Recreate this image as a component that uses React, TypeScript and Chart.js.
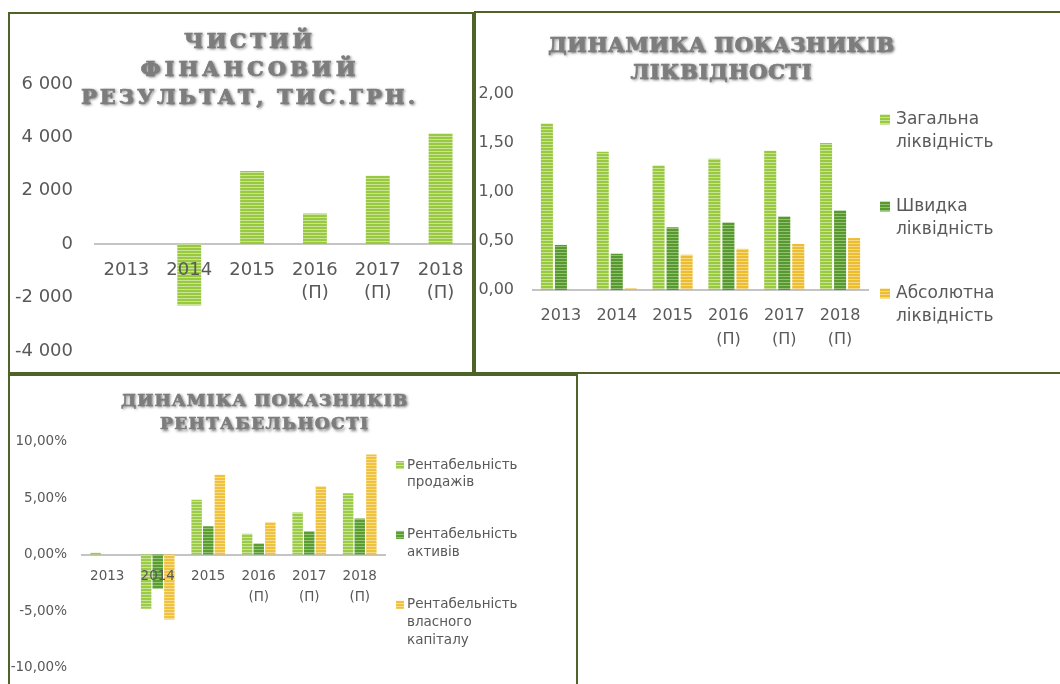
import React, { useEffect, useRef } from 'react';
import { Chart, registerables } from 'chart.js';

Chart.register(...registerables);

// ---------- data ----------
const years: (string | string[])[] = ['2013', '2014', '2015', ['2016', '(П)'], ['2017', '(П)'], ['2018', '(П)']];

const netResultTitle = ['ЧИСТИЙ', 'ФІНАНСОВИЙ', 'РЕЗУЛЬТАТ, ТИС.ГРН.'];
const netResultLabel = 'Чистий фінансовий результат';
const netResult = [0, -2300, 2740, 1150, 2560, 4150];

const liquidityTitle = ['ДИНАМИКА ПОКАЗНИКІВ', 'ЛІКВІДНОСТІ'];
const liquiditySeries = ['Загальна ліквідність', 'Швидка ліквідність', 'Абсолютна ліквідність'];
const generalLiquidity = [1.7, 1.41, 1.27, 1.34, 1.42, 1.5];
const quickLiquidity = [0.46, 0.37, 0.64, 0.69, 0.75, 0.81];
const absoluteLiquidity = [0, 0.02, 0.36, 0.42, 0.47, 0.53];

const profitabilityTitle = ['ДИНАМІКА ПОКАЗНИКІВ', 'РЕНТАБЕЛЬНОСТІ'];
const profitabilitySeries = ['Рентабельність продажів', 'Рентабельність активів', 'Рентабельність власного капіталу'];
const salesProfitability = [0.15, -4.8, 4.85, 1.83, 3.72, 5.43];
const assetsProfitability = [0, -3.04, 2.51, 0.97, 2.06, 3.19];
const equityProfitability = [0, -5.75, 7.05, 2.86, 6.05, 8.85];

// ---------- styles ----------
const FONT = '"DejaVu Sans", sans-serif';
const TITLE_FONT = '"DejaVu Serif", serif';
const TEXT = '#595959';
const BORDER = '#4f6228';

function stripes(base: string, light: string): CanvasPattern {
  const c = document.createElement('canvas');
  c.width = 4;
  c.height = 3;
  const g = c.getContext('2d')!;
  g.fillStyle = base;
  g.fillRect(0, 0, 4, 3);
  g.fillStyle = light;
  g.fillRect(0, 2, 4, 1);
  return g.createPattern(c, 'repeat')!;
}

const fmtThousands = (v: number) => {
  const s = Math.abs(v).toString().replace(/\B(?=(\d{3})+(?!\d))/g, ' ');
  return (v < 0 ? '-' : '') + s;
};
const fmtDecimal = (v: number) => v.toFixed(2).replace('.', ',');
const fmtPercent = (v: number) => v.toFixed(2).replace('.', ',') + '%';

function titlePlugin(cfg: { lines: string[]; cx: number; centers: number[]; widths: number[]; size: number }) {
  return {
    id: 'overlayTitle',
    afterDraw(chart: any) {
      const ctx: CanvasRenderingContext2D = chart.ctx;
      ctx.save();
      ctx.font = `bold ${cfg.size}px ${TITLE_FONT}`;
      ctx.textAlign = 'left';
      ctx.textBaseline = 'alphabetic';
      cfg.lines.forEach((text, i) => {
        (ctx as any).letterSpacing = '0px';
        const natural = ctx.measureText(text).width;
        const n = Array.from(text).length;
        const gap = n > 1 ? (cfg.widths[i] - natural) / (n - 1) : 0;
        (ctx as any).letterSpacing = `${gap}px`;
        const y = cfg.centers[i] + 0.364 * cfg.size - 0.7;
        const x = cfg.cx - cfg.widths[i] / 2;
        ctx.shadowColor = 'rgba(0,0,0,0.6)';
        ctx.shadowBlur = 3;
        ctx.shadowOffsetX = 1.5;
        ctx.shadowOffsetY = 1.5;
        ctx.fillStyle = '#7d7d7d';
        ctx.strokeStyle = '#7d7d7d';
        ctx.lineWidth = 0.7;
        ctx.fillText(text, x, y);
        ctx.shadowColor = 'rgba(0,0,0,0)';
        ctx.strokeText(text, x, y);
      });
      ctx.restore();
    },
  };
}

function legendPlugin(cfg: { markerX: number; marker: number; textX: number; top: number; step: number; lineHeight: number; size: number }) {
  return {
    id: 'sideLegend',
    afterDraw(chart: any) {
      const ctx: CanvasRenderingContext2D = chart.ctx;
      ctx.save();
      ctx.font = `${cfg.size}px ${FONT}`;
      ctx.textAlign = 'left';
      ctx.textBaseline = 'middle';
      chart.data.datasets.forEach((ds: any, i: number) => {
        const y0 = cfg.top + i * cfg.step;
        ctx.fillStyle = ds.backgroundColor;
        ctx.fillRect(cfg.markerX, y0 - cfg.marker / 2, cfg.marker, cfg.marker);
        ctx.fillStyle = TEXT;
        String(ds.label)
          .split(' ')
          .forEach((line: string, k: number) => ctx.fillText(line, cfg.textX, y0 + k * cfg.lineHeight));
      });
      ctx.restore();
    },
  };
}

function xScale(size: number, lineHeight: number, pad: number) {
  return {
    type: 'category',
    position: { y: 0 },
    offset: true,
    grid: { display: false, drawTicks: false },
    border: { display: true, color: '#c4c4c4', width: 2 },
    ticks: {
      z: 1,
      color: TEXT,
      padding: pad,
      maxRotation: 0,
      autoSkip: false,
      font: { family: FONT, size, lineHeight },
    },
    afterFit: (s: any) => {
      s.paddingLeft = 0;
      s.paddingRight = 0;
      s.paddingTop = 0;
      s.paddingBottom = 0;
    },
  };
}

function yScale(min: number, max: number, step: number, fmt: (v: number) => string, width: number, pad: number, size: number) {
  return {
    min,
    max,
    grid: { display: false, drawTicks: false },
    border: { display: false },
    ticks: {
      stepSize: step,
      color: TEXT,
      padding: pad,
      font: { family: FONT, size },
      callback: (v: any) => fmt(Number(v)),
    },
    afterFit: (s: any) => {
      s.width = width;
      s.paddingTop = 0;
      s.paddingBottom = 0;
      s.paddingLeft = 0;
      s.paddingRight = 0;
    },
  };
}

const baseOptions = (padding: any) => ({
  responsive: false,
  animation: false,
  devicePixelRatio: 1,
  layout: { padding },
  plugins: { legend: { display: false }, tooltip: { enabled: false }, title: { display: false } },
});

function buildNetResult(canvas: HTMLCanvasElement) {
  const green = stripes('#99c93f', '#c8e296');
  return new Chart(canvas, {
    type: 'bar',
    data: {
      labels: years as any,
      datasets: [
        { label: netResultLabel, data: netResult, backgroundColor: green as any, barPercentage: 0.38, categoryPercentage: 1 },
      ],
    },
    options: {
      ...baseOptions({ left: 0, right: 0, top: 70, bottom: 21 }),
      scales: {
        x: xScale(18, 23 / 18, 15) as any,
        y: yScale(-4000, 6000, 2000, fmtThousands, 85, 22, 18) as any,
      },
    } as any,
    plugins: [titlePlugin({ lines: netResultTitle, cx: 238, centers: [27, 55, 83], widths: [128, 215, 334], size: 21 })],
  });
}

function buildLiquidity(canvas: HTMLCanvasElement) {
  const green = stripes('#99c93f', '#c8e296');
  const dark = stripes('#57992e', '#91c072');
  const yellow = stripes('#ecbd2e', '#f6da8a');
  const common = { barPercentage: 0.86, categoryPercentage: 0.753 };
  return new Chart(canvas, {
    type: 'bar',
    data: {
      labels: years as any,
      datasets: [
        { label: liquiditySeries[0], data: generalLiquidity, backgroundColor: green as any, ...common },
        { label: liquiditySeries[1], data: quickLiquidity, backgroundColor: dark as any, ...common },
        { label: liquiditySeries[2], data: absoluteLiquidity, backgroundColor: yellow as any, ...common },
      ],
    },
    options: {
      ...baseOptions({ left: 0, right: 204, top: 81, bottom: 82 }),
      scales: {
        x: xScale(16, 1.5, 14) as any,
        y: yScale(0, 2, 0.5, fmtDecimal, 57, 19, 16) as any,
      },
    } as any,
    plugins: [
      titlePlugin({ lines: liquidityTitle, cx: 245, centers: [32, 59], widths: [346, 181], size: 21 }),
      legendPlugin({ markerX: 404, marker: 10, textX: 420, top: 106.5, step: 87, lineHeight: 23.5, size: 17 }),
    ],
  });
}

function buildProfitability(canvas: HTMLCanvasElement) {
  const green = stripes('#9ccb45', '#c9e39a');
  const dark = stripes('#5a9e32', '#93c274');
  const yellow = stripes('#eec23a', '#f7dc92');
  const common = { barPercentage: 0.9, categoryPercentage: 0.69 };
  return new Chart(canvas, {
    type: 'bar',
    data: {
      labels: years as any,
      datasets: [
        { label: profitabilitySeries[0], data: salesProfitability, backgroundColor: green as any, ...common },
        { label: profitabilitySeries[1], data: assetsProfitability, backgroundColor: dark as any, ...common },
        { label: profitabilitySeries[2], data: equityProfitability, backgroundColor: yellow as any, ...common },
      ],
    },
    options: {
      ...baseOptions({ left: 0, right: 191, top: 65.5, bottom: 24.5 }),
      scales: {
        x: xScale(13.5, 1.6, 11) as any,
        y: yScale(-10, 10, 5, fmtPercent, 72, 15, 13.5) as any,
      },
    } as any,
    plugins: [
      titlePlugin({ lines: profitabilityTitle, cx: 254, centers: [24.3, 47.8], widths: [286, 208], size: 17 }),
      legendPlugin({ markerX: 386, marker: 8, textX: 397, top: 89, step: 69.9, lineHeight: 17.7, size: 13.5 }),
    ],
  });
}

function ChartBox(props: { left: number; top: number; width: number; height: number; build: (c: HTMLCanvasElement) => Chart }) {
  const ref = useRef<HTMLCanvasElement>(null);
  const { left, top, width, height, build } = props;
  useEffect(() => {
    const chart = build(ref.current!);
    return () => chart.destroy();
  }, []);
  return (
    <div
      style={{
        position: 'absolute',
        left,
        top,
        width,
        height,
        border: `2px solid ${BORDER}`,
        boxSizing: 'border-box',
        background: '#fff',
      }}
    >
      <canvas ref={ref} width={width - 4} height={height - 4} style={{ display: 'block' }} />
    </div>
  );
}

export default function App() {
  return (
    <div style={{ position: 'absolute', left: 0, top: 0, width: 1060, height: 684, overflow: 'hidden', background: '#fff' }}>
      <ChartBox left={8} top={12} width={466} height={362} build={buildNetResult} />
      <ChartBox left={474} top={11} width={600} height={363} build={buildLiquidity} />
      <ChartBox left={8} top={374} width={570} height={320} build={buildProfitability} />
    </div>
  );
}
